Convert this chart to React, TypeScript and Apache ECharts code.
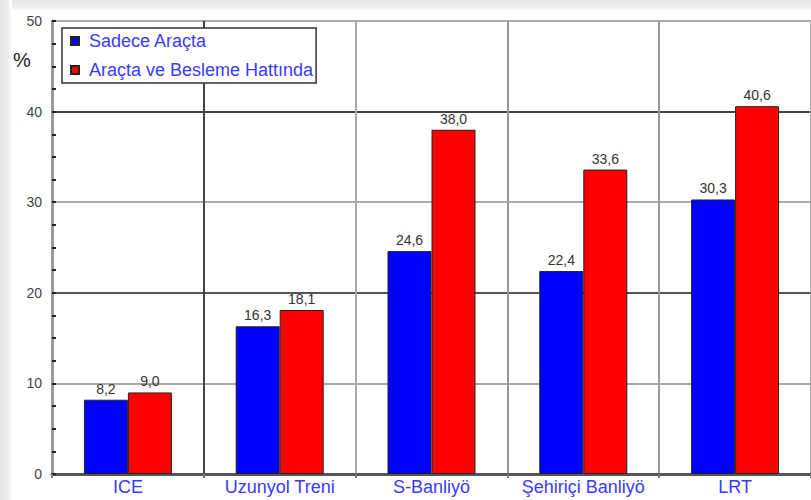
import React, { useEffect, useRef } from "react";
import * as echarts from "echarts";

const categories = ["ICE", "Uzunyol Treni", "S-Banliyö", "Şehiriçi Banliyö", "LRT"];
const seriesNames = ["Sadece Araçta", "Araçta ve Besleme Hattında"];
const onlyVehicle = [8.2, 16.3, 24.6, 22.4, 30.3];
const withFeeder = [9.0, 18.1, 38.0, 33.6, 40.6];
const yTicks = { min: 0, max: 50, interval: 10 };

const FONT = "'Liberation Sans', Arial, sans-serif";

export default function App() {
  const ref = useRef<HTMLDivElement>(null);
  useEffect(() => {
    if (!ref.current) return;
    const chart = echarts.init(ref.current, null, { renderer: "svg" });
    const fmt = (p: any) => Number(p.value).toFixed(1).replace(".", ",");
    const barLabel = {
      show: true,
      position: "top",
      distance: 4,
      formatter: fmt,
      color: "#333",
      fontSize: 14,
      fontFamily: FONT,
    };
    chart.setOption({
      animation: false,
      backgroundColor: "#ffffff",
      graphic: [
        {
          type: "rect",
          left: 0,
          top: 0,
          shape: { width: 811, height: 11 },
          style: {
            fill: new echarts.graphic.LinearGradient(0, 0, 0, 1, [
              { offset: 0, color: "#e6e6e6" },
              { offset: 0.7, color: "#f2f2f2" },
              { offset: 1, color: "#ffffff" },
            ]),
          },
          z: -1,
        },
        {
          type: "rect",
          left: 0,
          top: 0,
          shape: { width: 12, height: 500 },
          style: {
            fill: new echarts.graphic.LinearGradient(0, 0, 1, 0, [
              { offset: 0, color: "#e6e6e6" },
              { offset: 0.7, color: "#f0f0f0" },
              { offset: 1, color: "#ffffff" },
            ]),
          },
          z: -1,
        },
        {
          type: "text",
          left: 13,
          top: 50,
          style: { text: "%", fontSize: 20, fontFamily: FONT, fill: "#222" },
        },
      ],
      grid: { left: 52, right: -1, top: 21, bottom: 26, containLabel: false },
      legend: {
        orient: "vertical",
        left: 62,
        top: 28,
        data: seriesNames,
        backgroundColor: "#ffffff",
        borderColor: "#333",
        borderWidth: 1.5,
        padding: [3, 3, 3, 8],
        itemGap: 9,
        itemWidth: 8,
        itemHeight: 8,
        icon: "rect",
        textStyle: {
          color: "#3a3aff",
          fontSize: 18,
          fontFamily: FONT,
          lineHeight: 20,
          padding: [0, 0, 0, 5],
        },
        z: 10,
      },
      xAxis: {
        type: "category",
        data: categories,
        axisLine: { lineStyle: { color: "#555", width: 3 } },
        axisTick: { show: true, length: 4, lineStyle: { color: "#777", width: 2 } },
        axisLabel: {
          color: "#3a3aff",
          fontSize: 18,
          fontFamily: FONT,
          margin: 4,
          interval: 0,
        },
        splitLine: {
          show: true,
          interval: 0,
          lineStyle: {
            color: ["#999", "#444", "#aaa", "#999", "#999", "#aaa"],
            width: 2,
          },
        },
      },
      yAxis: {
        type: "value",
        min: yTicks.min,
        max: yTicks.max,
        interval: yTicks.interval,
        axisLine: { show: true, lineStyle: { color: "#999", width: 3 } },
        axisTick: { show: true, inside: true, length: 4, lineStyle: { color: "#222", width: 2 } },
        minorTick: {
          show: true,
          splitNumber: 4,
          length: 4,
          lineStyle: { color: "#222", width: 2 },
        },
        axisLabel: {
          color: "#444",
          fontSize: 14,
          fontFamily: FONT,
          margin: 10,
          formatter: (v: number) => String(v),
        },
        splitLine: {
          show: true,
          lineStyle: {
            color: ["#555", "#aaa", "#555", "#aaa", "#444", "#aaa"],
            width: 2,
          },
        },
      },
      series: [
        {
          name: seriesNames[0],
          type: "bar",
          data: onlyVehicle,
          barWidth: 44,
          barGap: "0%",
          itemStyle: { color: "#0000ff", borderColor: "#222", borderWidth: 1 },
          label: barLabel,
        },
        {
          name: seriesNames[1],
          type: "bar",
          data: withFeeder,
          barWidth: 44,
          barGap: "0%",
          itemStyle: { color: "#ff0000", borderColor: "#222", borderWidth: 1 },
          label: barLabel,
        },
      ],
    });
    return () => chart.dispose();
  }, []);
  return (
    <div
      ref={ref}
      style={{ position: "fixed", left: 0, top: 0, width: 811, height: 500 }}
    />
  );
}
